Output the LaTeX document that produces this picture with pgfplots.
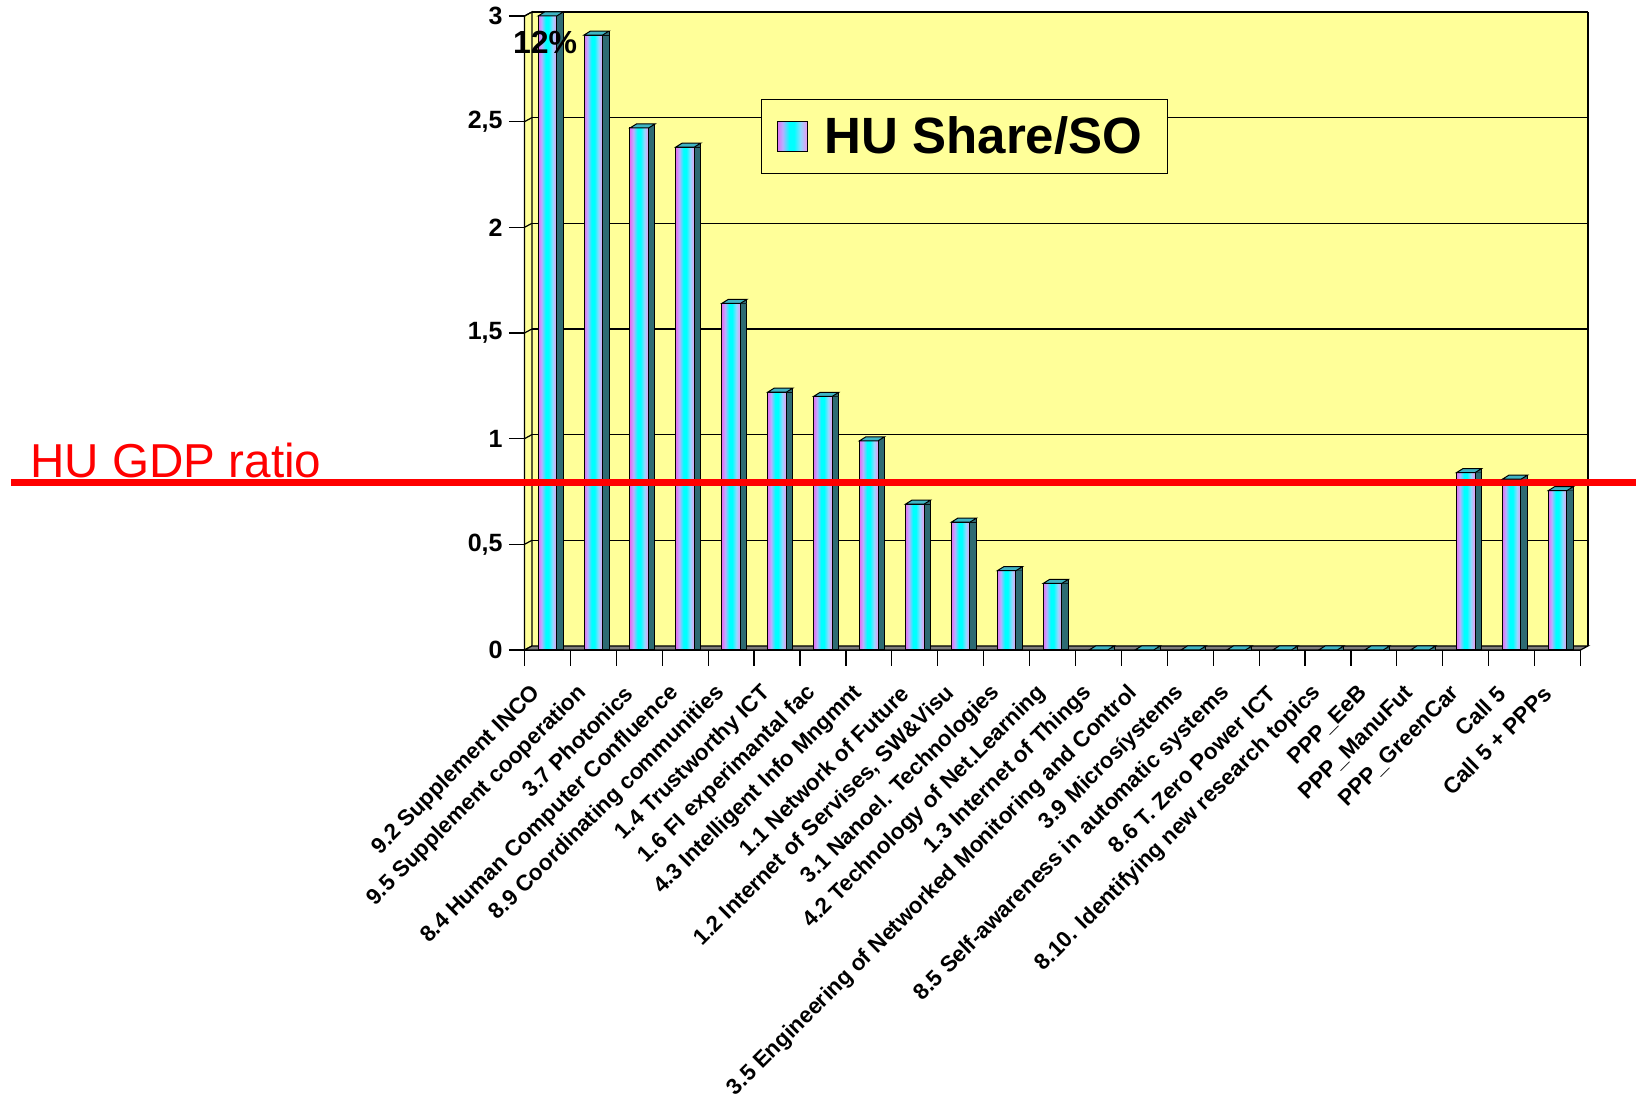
\documentclass[border=0pt]{standalone}
\usepackage{pgfplots}
\pgfplotsset{compat=1.18}
\usepackage{pgfplotstable}
\usepackage{fontspec}
\setmainfont{Liberation Sans}
\definecolor{wallyellow}{HTML}{FFFF99}
\definecolor{sidecol}{HTML}{2E6B73}
\definecolor{topcol}{HTML}{3FB5C4}
\definecolor{floorcol}{HTML}{7F7F7F}
\definecolor{pinkA}{RGB}{225,110,240}
\definecolor{lavA}{RGB}{185,175,255}
\definecolor{cyanA}{RGB}{0,255,255}
\definecolor{lblueA}{RGB}{150,215,255}
\definecolor{pinkB}{RGB}{240,150,240}
\pgfdeclarehorizontalshading{barshade}{100bp}{color(0bp)=(pinkA); color(25bp)=(pinkA); color(34bp)=(lavA); color(45bp)=(cyanA); color(53bp)=(cyanA); color(64bp)=(lblueA); color(75bp)=(pinkB); color(100bp)=(pinkB)}
\pgfdeclareplotmark{bartop}{%
 \pgfsetlinewidth{0.5pt}%
 \pgfsetstrokecolor{black}%
 \pgfpathmoveto{\pgfqpoint{4.65pt}{0pt}}%
 \pgfpathlineto{\pgfqpoint{7.85pt}{2pt}}%
 \pgfpathlineto{\pgfqpoint{7.85pt}{0pt}}%
 \pgfpathclose
 \pgfsetfillcolor{sidecol}%
 \pgfusepath{fill}%
 \pgfpathmoveto{\pgfqpoint{-4.65pt}{0pt}}%
 \pgfpathlineto{\pgfqpoint{4.65pt}{0pt}}%
 \pgfpathlineto{\pgfqpoint{7.85pt}{2pt}}%
 \pgfpathlineto{\pgfqpoint{-1.45pt}{2pt}}%
 \pgfpathclose
 \pgfsetfillcolor{topcol}%
 \pgfusepath{fill,stroke}%
 \pgfpathmoveto{\pgfqpoint{7.85pt}{2pt}}%
 \pgfpathlineto{\pgfqpoint{7.85pt}{0pt}}%
 \pgfusepath{stroke}%
}
\pgfplotstableread{
x y
0 3.00
1 2.91
2 2.47
3 2.38
4 1.64
5 1.22
6 1.20
7 0.99
8 0.69
9 0.605
10 0.375
11 0.315
12 0
13 0
14 0
15 0
16 0
17 0
18 0
19 0
20 0.839
21 0.808
22 0.754
}\datatable
\def\ox{3.7pt}
\def\oy{2pt}
\begin{document}
\begin{tikzpicture}
\useasboundingbox (0,0) rectangle (818pt,553pt);
\begin{axis}[
  at={(262.25pt,228pt)}, anchor=south west,
  scale only axis, width=528pt, height=317pt,
  xmin=-0.5, xmax=22.5, ymin=0, ymax=3,
  clip=false,
  axis lines*=left,
  axis line style={black, line width=0.6pt},
  ytick={0,0.5,1,1.5,2,2.5,3},
  yticklabels={0,{0,5},1,{1,5},2,{2,5},3},
  xtick={0,...,22},
  xticklabels={
    9.2 Supplement INCO,
    9.5 Supplement cooperation,
    3.7 Photonics,
    8.4 Human Computer Confluence,
    8.9 Coordinating communities,
    1.4 Trustworthy ICT,
    1.6 FI experimantal fac,
    4.3 Intelligent Info Mngmnt,
    1.1 Network of Future,
    {1.2 Internet of Servises, SW\&Visu},
    3.1 Nanoel. Technologies,
    4.2 Technology of Net.Learning,
    1.3 Internet of Things,
    3.5 Engineering of Networked Monitoring and Control,
    3.9 Microsíystems,
    8.5 Self-awareness in automatic systems,
    8.6 T. Zero Power ICT,
    8.10. Identifying new research topics,
    PPP\_EeB,
    PPP\_ManuFut,
    PPP\_GreenCar,
    Call 5,
    Call 5 + PPPs},
  minor xtick={-0.5,0.5,...,22.5},
  tick align=outside,
  major tick length=7.8pt,
  minor tick length=7.8pt,
  tick style={black, line width=0.6pt},
  major x tick style={draw=none},
  y tick label style={font=\fontsize{12.5}{14}\selectfont\bfseries, inner sep=0pt, inner xsep=3pt},
  x tick label style={font=\fontsize{11.2}{13}\selectfont\bfseries, inner sep=0pt, xshift=-5pt, yshift=-12pt, rotate=45, anchor=east},
  legend style={at={(0.224,0.8686)}, anchor=north west, draw=black, line width=0.6pt, fill=wallyellow,
    font=\fontsize{25.5}{30}\selectfont\bfseries, inner xsep=4pt, inner ysep=4pt,
    nodes={inner ysep=4.5pt, inner xsep=8.5pt}},
]
% back wall
\fill[wallyellow] ([shift={(\ox,\oy)}]axis cs:-0.5,0) rectangle ([shift={(\ox,\oy)}]axis cs:22.5,3);
% left wall
\filldraw[fill=wallyellow, draw=black, line width=0.6pt] (axis cs:-0.5,0) -- (axis cs:-0.5,3) -- ([shift={(\ox,\oy)}]axis cs:-0.5,3) -- ([shift={(\ox,\oy)}]axis cs:-0.5,0) -- cycle;
% grid lines
\pgfplotsinvokeforeach{0.5,1,1.5,2,2.5,3}{
  \draw[black, line width=0.6pt] ([shift={(\ox,\oy)}]axis cs:-0.5,#1) -- ([shift={(\ox,\oy)}]axis cs:22.5,#1);
  \draw[black, line width=0.6pt] (axis cs:-0.5,#1) -- ([shift={(\ox,\oy)}]axis cs:-0.5,#1);
}
\draw[black, line width=0.6pt] ([shift={(\ox,\oy)}]axis cs:22.5,0) -- ([shift={(\ox,\oy)}]axis cs:22.5,3);
% floor
\filldraw[fill=floorcol, draw=black, line width=0.6pt] (axis cs:-0.5,0) -- (axis cs:22.5,0) -- ([shift={(\ox,\oy)}]axis cs:22.5,0) -- ([shift={(\ox,\oy)}]axis cs:-0.5,0) -- cycle;
% bars: front faces, one path per bar so that each bar gets its own shading
\pgfplotsinvokeforeach{0,1,2,3,4,5,6,7,8,9,10,11,20,21,22}{
  \addplot[ybar, bar width=9.3pt, bar shift=0pt, draw=black, line width=0.5pt, shade, shading=barshade, forget plot,
    x filter/.code={\ifnum\coordindex=#1\relax\else\def\pgfmathresult{}\fi}]
    table[x=x, y=y]{\datatable};
}
% side faces
\addplot[ybar, bar width=3.2pt, bar shift=6.25pt, fill=sidecol, draw=black, line width=0.5pt, forget plot]
  table[x=x, y=y]{\datatable};
% top faces
\addplot[only marks, mark=bartop, forget plot] table[x=x, y=y]{\datatable};
\addlegendimage{legend image code/.code={\path (0pt,0pt); \draw[black, line width=0.6pt, shade, shading=barshade] (3.5pt,-7.5pt) rectangle (18.5pt,7.5pt);}}
\addlegendentry{HU Share/SO}
% HU GDP ratio line
\addplot[red, line width=3.25pt, forget plot] coordinates {(-11.68,0.793) (23.71,0.793)};
\node[anchor=base west, text=red, font=\fontsize{23.8}{28}\selectfont, inner sep=0pt] at (axis cs:-11.27,0.818) {HU GDP ratio};
\node[anchor=base, font=\fontsize{16}{19}\selectfont\bfseries, inner sep=0pt] at (axis cs:-0.053,2.824) {12\%};
\end{axis}
\end{tikzpicture}
\end{document}
